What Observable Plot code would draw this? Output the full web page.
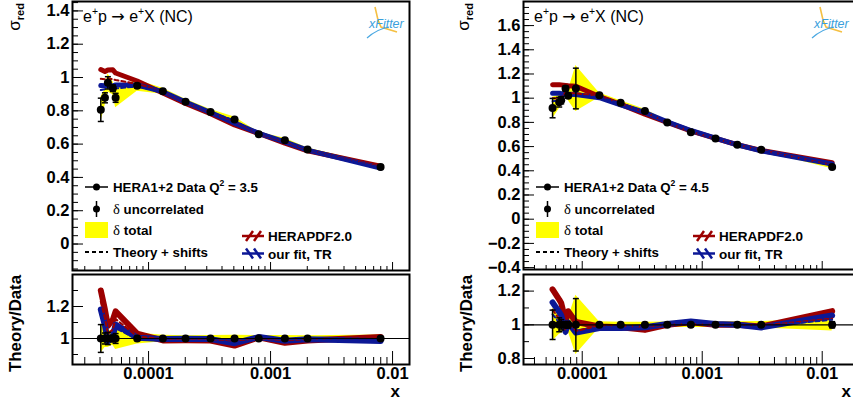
<!DOCTYPE html>
<html><head><meta charset="utf-8">
<script src="https://cdn.jsdelivr.net/npm/d3@7"></script>
<script src="https://cdn.jsdelivr.net/npm/@observablehq/plot@0.6"></script>
<style>
html,body{margin:0;padding:0;background:#fff;overflow:hidden;}
#root{position:relative;width:853px;height:405px;overflow:hidden;font-family:"Liberation Sans",Arial,sans-serif;}
</style></head><body><div id="root"></div>
<script>
// ---------- DATA: left panel, Q^2 = 3.5 ----------
const xL    = [4.06e-5, 4.39e-5, 4.64e-5, 5.1e-5, 5.37e-5, 8.07e-5, 1.31e-4, 2.01e-4, 3.22e-4, 5.07e-4, 8.0e-4, 1.31e-3, 2.01e-3, 7.98e-3];
const sigL  = [0.806, 0.878, 0.968, 0.936, 0.878, 0.950, 0.918, 0.854, 0.793, 0.748, 0.659, 0.623, 0.567, 0.463];
const uncL  = [0.070, 0.030, 0.037, 0.020, 0.027, 0.012, 0.007, 0.006, 0.006, 0.006, 0.005, 0.005, 0.005, 0.004];
const totL  = [0.075, 0.050, 0.055, 0.040, 0.060, 0.033, 0.018, 0.015, 0.015, 0.015, 0.012, 0.012, 0.010, 0.010];
const heraL = [1.048, 1.036, 1.045, 1.046, 1.027, 0.979, 0.907, 0.844, 0.783, 0.715, 0.664, 0.606, 0.560, 0.467];
const ourL  = [0.952, 0.950, 0.950, 0.950, 0.955, 0.955, 0.915, 0.853, 0.790, 0.726, 0.665, 0.614, 0.564, 0.456];
const heraShiftL = [0.992, 0.990, 0.995, 0.990, 0.985, 0.962, 0.915, 0.852, 0.790, 0.738, 0.660, 0.616, 0.565, 0.464];
const ourShiftL  = [0.925, 0.930, 0.940, 0.940, 0.935, 0.945, 0.917, 0.854, 0.792, 0.742, 0.661, 0.620, 0.566, 0.459];

// ---------- DATA: right panel, Q^2 = 4.5 ----------
const xR    = [5.66e-5, 6.43e-5, 6.68e-5, 7.26e-5, 7.64e-5, 8.85e-5, 1.39e-4, 2.09e-4, 3.33e-4, 5.11e-4, 8.04e-4, 1.29e-3, 1.96e-3, 3.10e-3, 1.21e-2];
const sigR  = [0.918, 0.967, 0.983, 1.080, 1.020, 1.080, 1.024, 0.963, 0.895, 0.800, 0.719, 0.667, 0.615, 0.574, 0.432];
const uncR  = [0.080, 0.040, 0.030, 0.020, 0.020, 0.168, 0.008, 0.007, 0.006, 0.006, 0.005, 0.005, 0.005, 0.005, 0.008];
const totR  = [0.090, 0.055, 0.050, 0.040, 0.040, 0.190, 0.018, 0.015, 0.014, 0.013, 0.012, 0.011, 0.011, 0.011, 0.016];
const heraR = [1.111, 1.112, 1.110, 1.105, 1.102, 1.098, 1.014, 0.949, 0.868, 0.800, 0.730, 0.667, 0.615, 0.568, 0.467];
const ourR  = [1.040, 1.040, 1.038, 1.036, 1.034, 1.030, 1.004, 0.944, 0.882, 0.804, 0.733, 0.670, 0.615, 0.565, 0.456];
const heraShiftR = [1.000, 1.000, 1.000, 1.050, 1.040, 1.040, 1.020, 0.958, 0.885, 0.800, 0.722, 0.667, 0.615, 0.571, 0.448];
const ourShiftR  = [0.975, 0.980, 0.985, 1.020, 1.020, 1.020, 1.010, 0.955, 0.888, 0.802, 0.725, 0.668, 0.615, 0.568, 0.445];

// ---------- TICKS / LABELS ----------
const xTickValues = [1e-4, 1e-3, 1e-2];
const xTickLabels = ["0.0001", "0.001", "0.01"];
const yTicksTopL = [0, 0.2, 0.4, 0.6, 0.8, 1, 1.2, 1.4];
const yTicksTopR = [-0.4, -0.2, 0, 0.2, 0.4, 0.6, 0.8, 1, 1.2, 1.4, 1.6];
const yTicksRatioL = [1, 1.2];
const yTicksRatioR = [0.8, 1, 1.2];
const q2Labels = ["3.5", "4.5"];

// ---------- STYLE ----------
const FONT = '"Liberation Sans", Arial, sans-serif';
const RED = "#9c0000", BLUE = "#0c1896", YEL = "#ffff00", BLK = "#000";
const fmtY = d => (d < 0 ? "\u2212" + String(Math.abs(d)) : String(d));

function rowsOf(x, s, u, t, h, o, hs, os) {
  return x.map((xi, i) => ({x: xi, y: s[i], unc: u[i], tot: t[i], red: h[i], blue: o[i], redS: hs[i], blueS: os[i]}));
}
const rowsL = rowsOf(xL, sigL, uncL, totL, heraL, ourL, heraShiftL, ourShiftL);
const rowsR = rowsOf(xR, sigR, uncR, totR, heraR, ourR, heraShiftR, ourShiftR);

const capSym = {draw(ctx, size) { const w = Math.sqrt(size / Math.PI); ctx.moveTo(-w, 0); ctx.lineTo(w, 0); }};
function minorRange(a, b, step) {
  return d3.range(Math.ceil(a / step - 1e-9), Math.floor(b / step + 1e-9) + 1).map(k => +(k * step).toFixed(6));
}
function logMinor(dom) {
  const out = [];
  for (let e = -6; e <= 0; e++) for (let m = 2; m <= 9; m++) { const v = m * 10 ** e; if (v >= dom[0] && v <= dom[1]) out.push(v); }
  return out;
}

const LAYOUT = [
  {left: 0, width: 430, mL: 72, mR: 21, xDomain: [2.38e-5, 0.01377],
   top: {height: 282, mT: 1, mB: 12, domain: [-0.159, 1.4565], major: yTicksTopL},
   ratio: {domain: [0.8375, 1.4], major: yTicksRatioL}},
  {left: 430, width: 425, mL: 93, mR: 1, xDomain: [3.24e-5, 0.01858],
   top: {height: 281, mT: 1, mB: 12, domain: [-0.4157, 1.799], major: yTicksTopR},
   ratio: {domain: [0.7644, 1.2985], major: yTicksRatioR}}
];
const RATIO = {top: 273, height: 132, mT: 1, mB: 41};

const root = document.getElementById("root");
function place(svg, left, top) {
  svg.style.position = "absolute"; svg.style.left = left + "px"; svg.style.top = top + "px";
  svg.style.background = "transparent"; svg.style.maxWidth = "none"; svg.style.overflow = "visible";
  root.appendChild(svg);
}

function errMarks(rows, yf, ef) {
  return [
    Plot.ruleX(rows, {x: "x", y1: d => yf(d) - ef(d), y2: d => yf(d) + ef(d), stroke: BLK, strokeWidth: 1.5}),
    Plot.dot(rows, {x: "x", y: d => yf(d) + ef(d), symbol: capSym, r: 3, stroke: BLK, fill: "none", strokeWidth: 1.5}),
    Plot.dot(rows, {x: "x", y: d => yf(d) - ef(d), symbol: capSym, r: 3, stroke: BLK, fill: "none", strokeWidth: 1.5})
  ];
}

function topPlot(P, rows) {
  const pw = P.width - P.mL - P.mR, ph = P.top.height - P.top.mT - P.top.mB;
  const [y0, y1] = P.top.domain;
  return Plot.plot({
    width: P.width, height: P.top.height,
    marginLeft: P.mL, marginRight: P.mR, marginTop: P.top.mT, marginBottom: P.top.mB,
    x: {type: "log", domain: P.xDomain, axis: null},
    y: {domain: P.top.domain},
    style: {background: "transparent", fontFamily: FONT},
    marks: [
      Plot.areaY(rows, {x: "x", y1: d => d.y - d.tot, y2: d => d.y + d.tot, fill: YEL}),
      Plot.line(rows, {x: "x", y: "red", stroke: RED, strokeWidth: 5}),
      Plot.line(rows, {x: "x", y: "blue", stroke: BLUE, strokeWidth: 5}),
      Plot.line(rows, {x: "x", y: "redS", stroke: RED, strokeWidth: 2, strokeDasharray: "4,3"}),
      Plot.line(rows, {x: "x", y: "blueS", stroke: BLUE, strokeWidth: 2, strokeDasharray: "4,3"}),
      ...errMarks(rows, d => d.y, d => d.unc),
      Plot.dot(rows, {x: "x", y: "y", r: 4, fill: BLK}),
      Plot.ruleY(P.top.major, {insetRight: pw - 11, stroke: BLK}),
      Plot.ruleY(minorRange(y0, y1, 0.05), {insetRight: pw - 6, stroke: BLK}),
      Plot.ruleX(xTickValues, {insetTop: ph - 8, stroke: BLK}),
      Plot.ruleX(logMinor(P.xDomain), {insetTop: ph - 4, stroke: BLK}),
      Plot.axisY(P.top.major, {anchor: "left", tickSize: 0, tickPadding: 3, label: null, fontSize: 16.5, fontWeight: "bold", fill: BLK, tickFormat: fmtY}),
      Plot.frame({stroke: BLK, strokeWidth: 2})
    ]
  });
}

function ratioPlot(P, rows) {
  const pw = P.width - P.mL - P.mR, ph = RATIO.height - RATIO.mT - RATIO.mB;
  const [y0, y1] = P.ratio.domain;
  return Plot.plot({
    width: P.width, height: RATIO.height,
    marginLeft: P.mL, marginRight: P.mR, marginTop: RATIO.mT, marginBottom: RATIO.mB,
    x: {type: "log", domain: P.xDomain},
    y: {domain: P.ratio.domain},
    style: {background: "transparent", fontFamily: FONT},
    marks: [
      Plot.areaY(rows, {x: "x", y1: d => 1 - d.tot / d.y, y2: d => 1 + d.tot / d.y, fill: YEL}),
      Plot.line(rows, {x: "x", y: d => d.red / d.y, stroke: RED, strokeWidth: 6}),
      Plot.line(rows, {x: "x", y: d => d.blue / d.y, stroke: BLUE, strokeWidth: 6}),
      Plot.line(rows, {x: "x", y: d => d.redS / d.y, stroke: RED, strokeWidth: 2, strokeDasharray: "4,3"}),
      Plot.line(rows, {x: "x", y: d => d.blueS / d.y, stroke: BLUE, strokeWidth: 2, strokeDasharray: "4,3"}),
      Plot.ruleY([1], {stroke: BLK, strokeWidth: 1.2}),
      ...errMarks(rows, d => 1, d => d.unc / d.y),
      Plot.dot(rows, {x: "x", y: d => 1, r: 4, fill: BLK}),
      Plot.ruleY(P.ratio.major, {insetRight: pw - 11, stroke: BLK}),
      Plot.ruleY(minorRange(y0, y1, 0.1), {insetRight: pw - 6, stroke: BLK}),
      Plot.ruleX(xTickValues, {insetTop: ph - 13, stroke: BLK}),
      Plot.ruleX(logMinor(P.xDomain), {insetTop: ph - 7, stroke: BLK}),
      Plot.axisY(P.ratio.major, {anchor: "left", tickSize: 0, tickPadding: 3, label: null, fontSize: 16.5, fontWeight: "bold", fill: BLK, tickFormat: fmtY}),
      Plot.axisX(xTickValues, {anchor: "bottom", tickSize: 0, tickPadding: 3, label: null, fontSize: 16.5, fontWeight: "bold", fill: BLK,
        tickFormat: d => xTickLabels[xTickValues.indexOf(d)]}),
      Plot.frame({stroke: BLK, strokeWidth: 2})
    ]
  });
}

const allRows = [rowsL, rowsR];
LAYOUT.forEach((P, i) => place(topPlot(P, allRows[i]), P.left, 0));
LAYOUT.forEach((P, i) => place(ratioPlot(P, allRows[i]), P.left, RATIO.top));

// ---------- overlay: titles, axis titles, legends, logos ----------
const ov = d3.select(root).append("svg").attr("width", 853).attr("height", 405)
  .style("position", "absolute").style("left", "0px").style("top", "0px")
  .attr("font-family", FONT);

// rich text; base font size fs, parts may carry relative size/sup/sub (in em of fs)
function draw(g, x, y, parts, fs, attrs) {
  const t = g.append("text").attr("x", x).attr("y", y).attr("font-size", fs);
  for (const [k, v] of Object.entries(attrs)) t.attr(k, v);
  let shift = 0;
  for (const p of parts) {
    const s = t.append("tspan").text(p.t);
    const target = p.sup ? -p.sup * fs : (p.sub ? p.sub * fs : 0);
    if (target !== shift) { s.attr("dy", target - shift); shift = target; }
    s.attr("font-size", (p.size || 1) * fs);
    if (p.weight) s.attr("font-weight", p.weight);
    if (p.family) s.attr("font-family", p.family);
  }
  return t;
}
// draw, then rescale font so the text spans the width measured on the reference
function txt(g, x, y, parts, fs, attrs = {}, targetW = null) {
  let t = draw(g, x, y, parts, fs, attrs);
  if (targetW) {
    const w = t.node().getComputedTextLength();
    if (w > 0 && Math.abs(w - targetW) > 1) {
      const f = Math.max(0.8, Math.min(1.25, targetW / w));
      t.remove();
      t = draw(g, x, y, parts, fs * f, attrs);
    }
  }
  return t;
}

const panelDX = [0, 451];
const sigmaX = [20, 469], ratioTitleX = [21, 472], xLabelX = [400, 851], logoX = [369, 814];
const SERIF = '"Liberation Serif", serif';

panelDX.forEach((dx, i) => {
  const g = ov.append("g");
  txt(g, sigmaX[i], 3, [{t: "σ", size: 1}, {t: "red", sub: 0.25, size: 0.65, weight: "bold"}], 17,
    {transform: `rotate(-90,${sigmaX[i]},3)`, "text-anchor": "end"});
  txt(g, ratioTitleX[i], 275, [{t: "Theory/Data"}], 17,
    {transform: `rotate(-90,${ratioTitleX[i]},275)`, "text-anchor": "end", "font-weight": "bold"}, 97);
  txt(g, xLabelX[i], 397, [{t: "x"}], 17, {"text-anchor": "end", "font-weight": "bold"});
  txt(g, 83 + dx, 21.5, [{t: "e"}, {t: "+", sup: 0.4, size: 0.65}, {t: "p "}, {t: "→", family: '"DejaVu Sans", sans-serif'},
    {t: " e"}, {t: "+", sup: 0.4, size: 0.65}, {t: "X (NC)"}], 15, {}, 110);

  // legend
  const lg = g.append("g").attr("font-weight", "bold");
  const mx = 85 + dx, tx = 113 + dx, FS = 13.5;
  lg.append("line").attr("x1", mx).attr("x2", mx + 23).attr("y1", 187).attr("y2", 187).attr("stroke", BLK).attr("stroke-width", 1.5);
  lg.append("circle").attr("cx", mx + 11.5).attr("cy", 187).attr("r", 3.5).attr("fill", BLK);
  txt(lg, tx, 192, [{t: "HERA1+2 Data Q"}, {t: "2", sup: 0.45, size: 0.65}, {t: " = " + q2Labels[i]}], FS, {}, 145);

  lg.append("line").attr("x1", mx + 11.5).attr("x2", mx + 11.5).attr("y1", 201).attr("y2", 217).attr("stroke", BLK).attr("stroke-width", 1.5);
  lg.append("circle").attr("cx", mx + 11.5).attr("cy", 209).attr("r", 3.5).attr("fill", BLK);
  txt(lg, tx, 214, [{t: "δ", family: SERIF, weight: "normal", size: 1.1}, {t: " uncorrelated"}], FS, {}, 91);

  lg.append("rect").attr("x", mx).attr("y", 222).attr("width", 23).attr("height", 16).attr("fill", YEL);
  txt(lg, tx, 235, [{t: "δ", family: SERIF, weight: "normal", size: 1.1}, {t: " total"}], FS, {}, 39);

  lg.append("line").attr("x1", mx).attr("x2", mx + 23).attr("y1", 252).attr("y2", 252).attr("stroke", BLK)
    .attr("stroke-width", 2).attr("stroke-dasharray", "4,3");
  txt(lg, tx, 257, [{t: "Theory + shifts"}], FS, {}, 95);

  const hx = 242 + dx;
  [[RED, 236, 1, "HERAPDF2.0", 84], [BLUE, 253.5, -1, "our fit, TR", 64]].forEach(([c, y, dir, label, w]) => {
    lg.append("line").attr("x1", hx).attr("x2", hx + 22).attr("y1", y).attr("y2", y).attr("stroke", c).attr("stroke-width", 2.5);
    [4, 12].forEach(o => {
      lg.append("line").attr("x1", hx + o).attr("x2", hx + o + 7)
        .attr("y1", y + 5 * dir).attr("y2", y - 5 * dir).attr("stroke", c).attr("stroke-width", 2.5);
    });
    txt(lg, hx + 26, y + 5, [{t: label}], FS, {}, w);
  });

  // xFitter logo
  const lx = logoX[i];
  g.append("path").attr("d", `M${lx + 6},7 L${lx + 9},20 L${lx + 12},27 L${lx + 28},32`)
    .attr("fill", "none").attr("stroke", "#f5c043").attr("stroke-width", 1.6);
  g.append("path").attr("d", `M${lx - 2},38 Q${lx + 8},29 ${lx + 20},27`)
    .attr("fill", "none").attr("stroke", "#4aa8e2").attr("stroke-width", 1.2);
  g.append("text").attr("x", lx).attr("y", 28).attr("font-size", 12.5).attr("font-style", "italic")
    .attr("fill", "#3a9fdc").text("xFitter");
});
</script>
</body></html>
